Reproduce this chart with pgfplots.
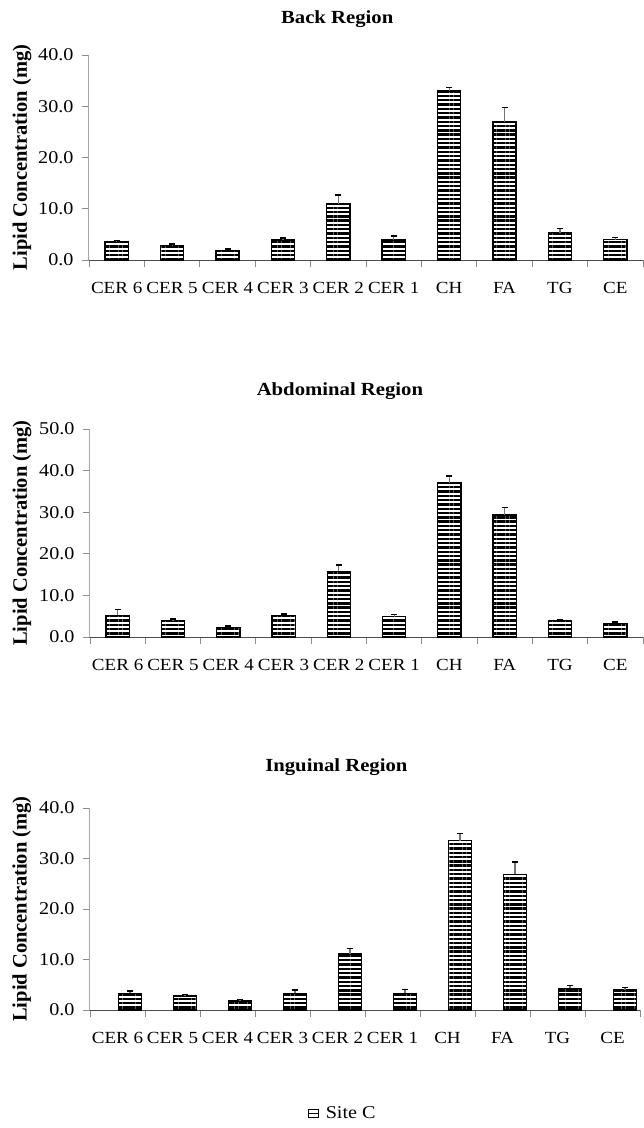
\documentclass[border=0pt]{standalone}
\usepackage{fontspec}
\setmainfont{Liberation Serif}[FakeStretch=1.12]
\newfontfamily\ylabfont{Liberation Serif}
\usepackage{pgfplots}
\pgfplotsset{compat=1.18}
\usetikzlibrary{patterns.meta}

\pgfplotsset{lipid/.style={
  scale only axis, ybar, bar width=0.42,
  xmin=-0.5, xmax=9.5, ymin=0, clip=false,
  axis lines*=left,
  x axis line style={black!70, line width=1pt},
  y axis line style={black!35, line width=1pt},
  xtick={0,...,9},
  xticklabels={CER 6,CER 5,CER 4,CER 3,CER 2,CER 1,CH,FA,TG,CE},
  minor xtick={-0.5,0.5,...,9.5},
  major x tick style={draw=none},
  minor x tick style={black!45, line width=0.8pt},
  y tick style={black!45, line width=0.8pt},
  tick align=outside, major tick length=7pt, minor tick length=7pt,
  xticklabel style={font=\fontsize{17}{20}\selectfont, yshift=-12pt},
  yticklabel style={font=\fontsize{18}{21}\selectfont, xshift=-5pt,
     /pgf/number format/fixed, /pgf/number format/fixed zerofill,
     /pgf/number format/precision=1, /pgf/number format/assume math mode=true},
  ylabel={Lipid Concentration (mg)},
  ylabel style={anchor=center, font=\ylabfont\bfseries\fontsize{20.5}{24}\selectfont},
  title style={anchor=center, font=\fontsize{18.5}{22}\selectfont\bfseries},
}}
\pgfplotsset{barstyle/.style={draw=black, line width=1.3pt, fill=white,
   postaction={pattern={Lines[angle=0,distance=4.3pt,line width=2.4pt]}},
   error bars/y dir=plus, error bars/y explicit,
   error bars/error bar style={black!55, line width=1.2pt},
   error bars/error mark options={rotate=90, black, mark size=3pt, line width=1.3pt}}}

\begin{document}
\begin{tikzpicture}
\useasboundingbox (0,0) rectangle (644pt,-1128pt);

% Back Region
\begin{axis}[lipid, at={(89pt,-260pt)}, anchor=south west,
  width=554pt, height=205pt, ymax=40, ytick={0,10,20,30,40},
  title={Back Region},
  title style={at={(axis description cs:0.448,1)}, yshift=30pt},
  ylabel style={at={(axis description cs:-0.121,0.5)}}]
\addplot[barstyle] coordinates {
 (0,3.5) +- (0,0.25)
 (1,2.8) +- (0,0.3)
 (2,1.9) +- (0,0.25)
 (3,3.9) +- (0,0.4)
 (4,10.9) +- (0,1.8)
 (5,3.9) +- (0,0.8)
 (6,33.0) +- (0,0.6)
 (7,26.9) +- (0,2.8)
 (8,5.3) +- (0,0.8)
 (9,4.0) +- (0,0.45)
};
\end{axis}

% Abdominal Region
\begin{axis}[lipid, at={(90pt,-637pt)}, anchor=south west,
  width=553pt, height=208pt, ymax=50, ytick={0,10,20,30,40,50},
  title={Abdominal Region},
  title style={at={(axis description cs:0.452,1)}, yshift=32pt},
  ylabel style={at={(axis description cs:-0.123,0.5)}}]
\addplot[barstyle] coordinates {
 (0,5.2) +- (0,1.4)
 (1,3.9) +- (0,0.4)
 (2,2.3) +- (0,0.35)
 (3,5.2) +- (0,0.3)
 (4,15.8) +- (0,1.5)
 (5,4.9) +- (0,0.5)
 (6,37.0) +- (0,1.7)
 (7,29.3) +- (0,1.9)
 (8,3.9) +- (0,0.2)
 (9,3.3) +- (0,0.3)
};
\end{axis}

% Inguinal Region
\begin{axis}[lipid, at={(90pt,-1010pt)}, anchor=south west,
  width=550pt, height=202pt, ymax=40, ytick={0,10,20,30,40},
  title={Inguinal Region},
  title style={at={(axis description cs:0.448,1)}, yshift=35pt},
  ylabel style={at={(axis description cs:-0.124,0.5)}},
  legend style={at={(axis description cs:0.46,-0.51)}, anchor=center,
     draw=none, fill=none, font=\fontsize{18}{21}\selectfont}]
\addlegendimage{legend image code/.code={
   \path[draw=none, fill=none] (0pt,0pt) -- (15pt,0pt);
   \draw[black, line width=0.8pt, fill=white] (0pt,-4pt) rectangle (10pt,4pt);
   \draw[black, line width=0.8pt] (0pt,0pt) -- (10pt,0pt);}}
\addlegendentry{Site C}
\addplot[barstyle, forget plot] coordinates {
 (0,3.3) +- (0,0.45)
 (1,2.8) +- (0,0.25)
 (2,1.8) +- (0,0.3)
 (3,3.3) +- (0,0.65)
 (4,11.1) +- (0,1.1)
 (5,3.3) +- (0,0.8)
 (6,33.5) +- (0,1.5)
 (7,26.9) +- (0,2.4)
 (8,4.3) +- (0,0.6)
 (9,3.95) +- (0,0.55)
};
\end{axis}
\end{tikzpicture}
\end{document}
